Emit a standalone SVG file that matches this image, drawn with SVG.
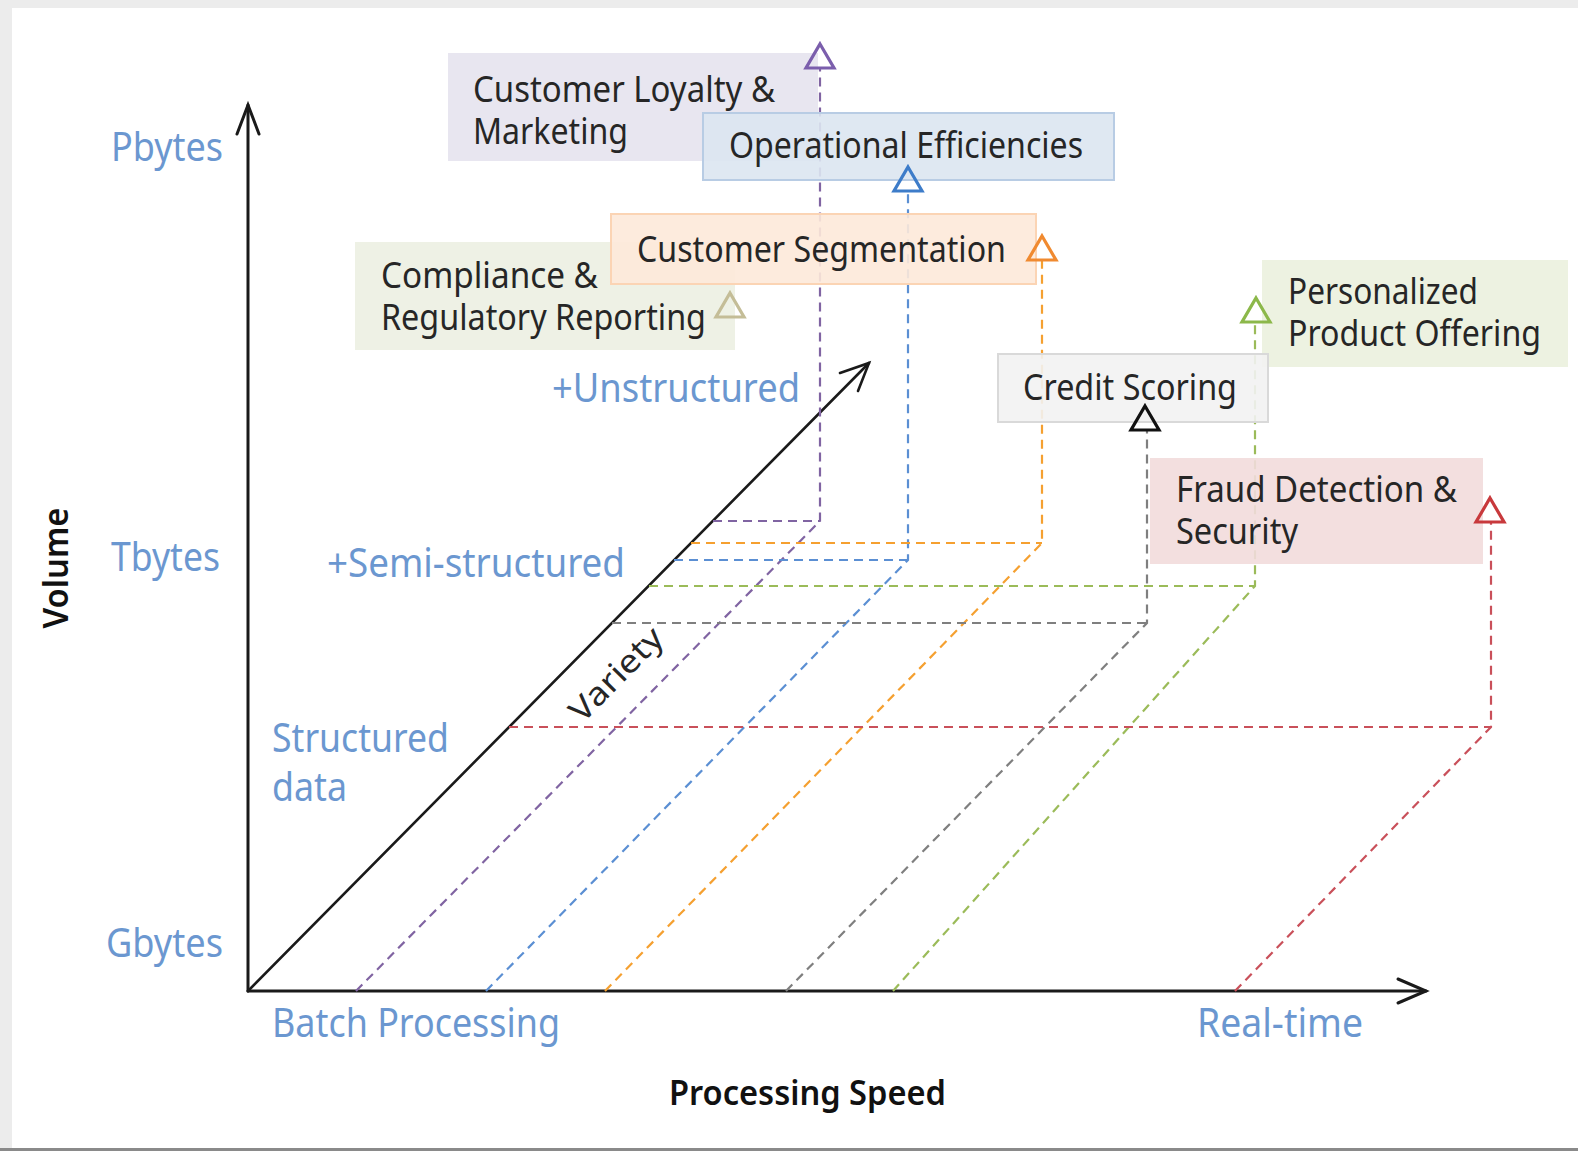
<svg xmlns="http://www.w3.org/2000/svg" width="1578" height="1151" viewBox="0 0 1578 1151">
<defs>
<style>
.bx{font-family:"Noto Sans","Open Sans","Liberation Sans",sans-serif;font-size:37px;fill:#262626}
.lb{font-family:"Noto Sans","Open Sans","Liberation Sans",sans-serif;font-size:40px;fill:#6b97d0}
.ax{font-family:"Noto Sans","Open Sans","Liberation Sans",sans-serif;font-size:34px;fill:#111;font-weight:600}
.d{fill:none;stroke-width:2.2;stroke-dasharray:9 6}
.tri{fill:none;stroke-width:3.2;stroke-linejoin:miter}
</style>
<path id="tri" d="M0,-12 L14,12 L-14,12 Z"/>
</defs>
<rect x="0" y="0" width="1578" height="1151" fill="#ffffff"/>
<rect x="0" y="0" width="1578" height="8" fill="#ececec"/>
<rect x="0" y="0" width="12" height="1151" fill="#ececec"/>
<rect x="0" y="1148" width="1578" height="3" fill="#8a8a8a"/>

<g id="axes" stroke="#1a1a1a" fill="none" stroke-linecap="round">
<line x1="248" y1="991" x2="248" y2="105" stroke-width="3"/>
<polyline points="237,134 248,105 259,134" stroke-width="3"/>
<line x1="248" y1="991" x2="1426" y2="991" stroke-width="3"/>
<polyline points="1398,979 1426,991 1398,1003" stroke-width="3"/>
<line x1="248" y1="991" x2="869" y2="363" stroke-width="2.6"/>
<polyline points="840,373 869,363 858,391" stroke-width="2.6"/>
</g>

<g id="connectors">
<polyline class="d" stroke="#8064a2" points="356,991 820,521 820,68"/>
<line class="d" stroke="#8064a2" x1="713" y1="521" x2="820" y2="521"/>
<polyline class="d" stroke="#5b8fd3" points="486,991 908,560 908,191"/>
<line class="d" stroke="#5b8fd3" x1="674" y1="560" x2="908" y2="560"/>
<polyline class="d" stroke="#f5a030" points="605,991 1042,543 1042,260"/>
<line class="d" stroke="#f5a030" x1="691" y1="543" x2="1042" y2="543"/>
<polyline class="d" stroke="#7f7f7f" points="786,991 1147,623 1147,430"/>
<line class="d" stroke="#7f7f7f" x1="612" y1="623" x2="1147" y2="623"/>
<polyline class="d" stroke="#9bbb59" points="893,991 1255,586 1255,322"/>
<line class="d" stroke="#9bbb59" x1="649" y1="586" x2="1255" y2="586"/>
<polyline class="d" stroke="#c9505a" points="1235,991 1491,727 1491,522"/>
<line class="d" stroke="#c9505a" x1="509" y1="727" x2="1491" y2="727"/>
</g>

<g id="node-loyalty">
<rect x="448" y="53" width="370" height="108" fill="#e5e3ee" fill-opacity="0.9"/>
<text class="bx" x="473" y="102" textLength="302" lengthAdjust="spacingAndGlyphs">Customer Loyalty &amp;</text>
<text class="bx" x="473" y="144" textLength="155" lengthAdjust="spacingAndGlyphs">Marketing</text>
</g>
<g id="node-operational">
<rect x="703" y="113" width="411" height="67" fill="#dbe5f1" fill-opacity="0.9" stroke="#b8cce4" stroke-width="2"/>
<text class="bx" x="729" y="158" textLength="354" lengthAdjust="spacingAndGlyphs">Operational Efficiencies</text>
</g>
<g id="node-compliance">
<rect x="355" y="242" width="380" height="108" fill="#ecefe2" fill-opacity="0.9"/>
<text class="bx" x="381" y="288" textLength="217" lengthAdjust="spacingAndGlyphs">Compliance &amp;</text>
<text class="bx" x="381" y="330" textLength="325" lengthAdjust="spacingAndGlyphs">Regulatory Reporting</text>
</g>
<g id="node-segmentation">
<rect x="611" y="214" width="425" height="70" fill="#fde9d9" fill-opacity="0.9" stroke="#fbd4b4" stroke-width="2"/>
<text class="bx" x="637" y="262" textLength="369" lengthAdjust="spacingAndGlyphs">Customer Segmentation</text>
</g>
<g id="node-personalized">
<rect x="1262" y="260" width="306" height="107" fill="#ebf1de" fill-opacity="0.9"/>
<text class="bx" x="1288" y="304" textLength="190" lengthAdjust="spacingAndGlyphs">Personalized</text>
<text class="bx" x="1288" y="346" textLength="253" lengthAdjust="spacingAndGlyphs">Product Offering</text>
</g>
<g id="node-credit">
<rect x="998" y="354" width="270" height="68" fill="#f2f2f2" fill-opacity="0.9" stroke="#d9d9d9" stroke-width="2"/>
<text class="bx" x="1023" y="400" textLength="214" lengthAdjust="spacingAndGlyphs">Credit Scoring</text>
</g>
<g id="node-fraud">
<rect x="1150" y="458" width="333" height="106" fill="#f2dcdb" fill-opacity="0.9"/>
<text class="bx" x="1176" y="502" textLength="281" lengthAdjust="spacingAndGlyphs">Fraud Detection &amp;</text>
<text class="bx" x="1176" y="544" textLength="122" lengthAdjust="spacingAndGlyphs">Security</text>
</g>

<g id="markers">
<use href="#tri" x="820" y="56" class="tri" stroke="#7b5eac"/>
<use href="#tri" x="908" y="179" class="tri" stroke="#3d7cc9"/>
<use href="#tri" x="1042" y="248" class="tri" stroke="#f08a30"/>
<use href="#tri" x="730" y="305" class="tri" stroke="#c4bd97"/>
<use href="#tri" x="1256" y="310" class="tri" stroke="#8cb84a"/>
<use href="#tri" x="1145" y="418" class="tri" stroke="#111111"/>
<use href="#tri" x="1490" y="510" class="tri" stroke="#c8393c"/>
</g>

<g id="labels">
<text class="lb" x="111" y="161" textLength="112" lengthAdjust="spacingAndGlyphs">Pbytes</text>
<text class="lb" x="111" y="571" textLength="109" lengthAdjust="spacingAndGlyphs">Tbytes</text>
<text class="lb" x="106" y="957" textLength="117" lengthAdjust="spacingAndGlyphs">Gbytes</text>
<text class="lb" x="552" y="402" textLength="248" lengthAdjust="spacingAndGlyphs">+Unstructured</text>
<text class="lb" x="327" y="577" textLength="298" lengthAdjust="spacingAndGlyphs">+Semi-structured</text>
<text class="lb" x="272" y="752" textLength="177" lengthAdjust="spacingAndGlyphs">Structured</text>
<text class="lb" x="272" y="801" textLength="75" lengthAdjust="spacingAndGlyphs">data</text>
<text class="lb" x="272" y="1037" textLength="288" lengthAdjust="spacingAndGlyphs">Batch Processing</text>
<text class="lb" x="1197" y="1037" textLength="166" lengthAdjust="spacingAndGlyphs">Real-time</text>
<text class="ax" x="669" y="1105" textLength="277" lengthAdjust="spacingAndGlyphs">Processing Speed</text>
<text class="ax" transform="translate(68,568) rotate(-90)" text-anchor="middle" textLength="121" lengthAdjust="spacingAndGlyphs">Volume</text>
<text class="bx" transform="translate(624,682) rotate(-45.3)" text-anchor="middle" style="font-size:32px" textLength="118" lengthAdjust="spacingAndGlyphs">Variety</text>
</g>
</svg>
